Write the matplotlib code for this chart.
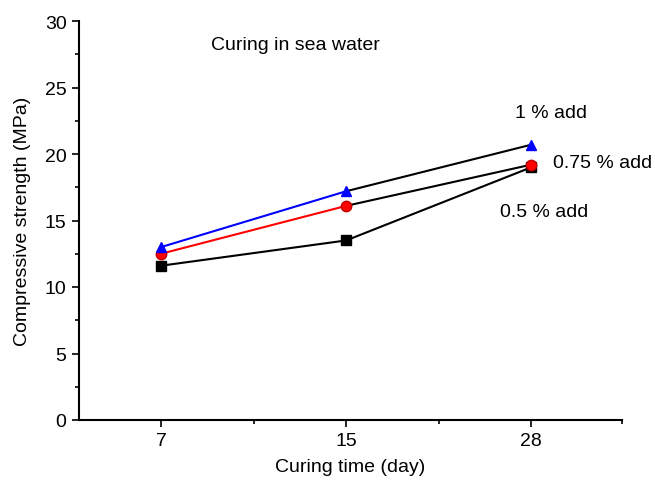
import matplotlib
matplotlib.use("Agg")
import matplotlib.pyplot as plt
from matplotlib.ticker import MultipleLocator, FixedLocator

plt.rcParams['font.family'] = ['Liberation Sans', 'DejaVu Sans']

days = ["7", "15", "28"]
add_1 = [13.0, 17.2, 20.7]
add_075 = [12.5, 16.1, 19.2]
add_05 = [11.6, 13.5, 19.0]
labels = ["1 % add", "0.75 % add", "0.5 % add"]

x = list(range(1, len(days) + 1))

fig = plt.figure(figsize=(6.55, 4.81), dpi=100)
ax = fig.add_axes([79/655, 60/481, (622-79)/655, (421-22)/481])

series = [
    (add_05, 'black', 's', 'black', 'black'),
    (add_075, 'red', 'o', 'red', '#c00000'),
    (add_1, 'blue', '^', 'blue', 'blue'),
]
for vals, col, mk, mfc, mec in series:
    ax.plot(x[:2], vals[:2], color=col, lw=1.5, zorder=2)
    ax.plot(x[1:], vals[1:], color='black', lw=1.5, zorder=2)
    ax.plot(x, vals, linestyle='none', marker=mk, markersize=7.5,
            markerfacecolor=mfc, markeredgecolor=mec, zorder=3)

ax.set_xlim(0.557, 3.49)
ax.set_ylim(0, 30)
ax.set_xticks(x)
ax.set_xticklabels(days)
ax.xaxis.set_minor_locator(FixedLocator([1.5, 2.5, 3.49]))
ax.yaxis.set_major_locator(MultipleLocator(5))
ax.yaxis.set_minor_locator(MultipleLocator(2.5))

for s in ['top', 'right']:
    ax.spines[s].set_visible(False)
for s in ['left', 'bottom']:
    ax.spines[s].set_linewidth(1.5)
ax.tick_params(axis='both', which='major', direction='out', length=5, width=1.2, labelsize=14, pad=4)
ax.tick_params(axis='both', which='minor', direction='out', length=3, width=1.2)

ax.set_xlabel("Curing time (day)", fontsize=14, labelpad=6)
ax.set_ylabel("Compressive strength (MPa)", fontsize=14, labelpad=10)

txt = [
    (211, 46, "Curing in sea water"),
    (515, 114, labels[0]),
    (553, 163, labels[1]),
    (500, 213, labels[2]),
]
for px, py, s in txt:
    fig.text(px/655, 1 - py/481, s, fontsize=14, va='center', ha='left')

fig.savefig("out.png", dpi=100)
